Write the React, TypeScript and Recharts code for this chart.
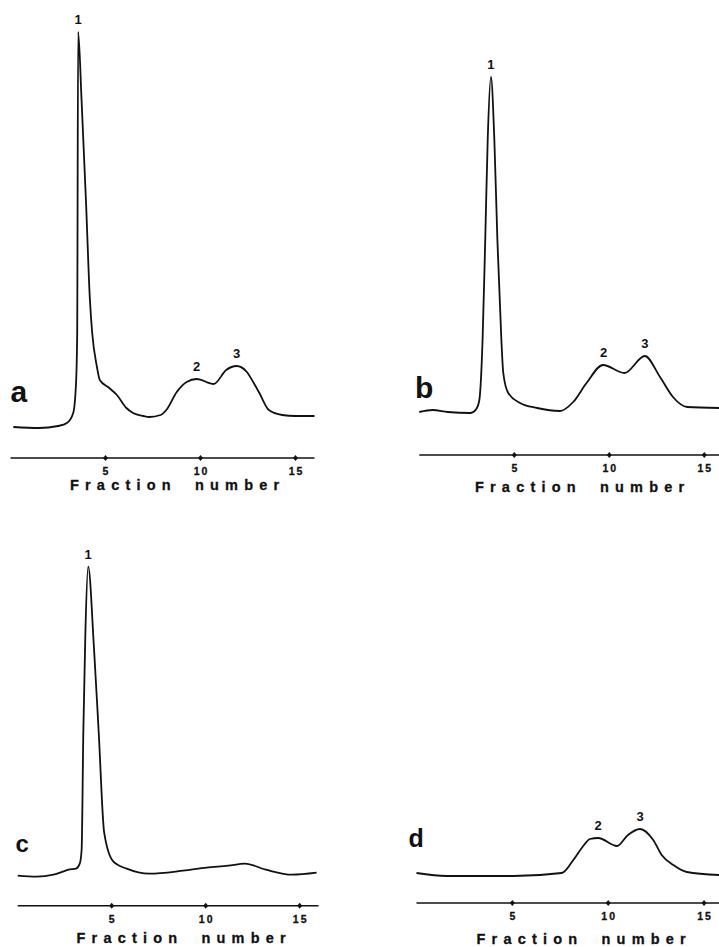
import React from "react";
import { LineChart, Line, XAxis, YAxis, ReferenceDot } from "recharts";

// elution profiles, absorbance (arbitrary units) vs fraction number
const fractionA = [0.15, 1.5, 2.5, 2.97, 3.3, 3.45, 3.51, 3.56, 3.74, 3.97, 4.18, 4.3, 4.55, 4.7, 5.2, 5.6, 6.1, 6.45, 7.0, 7.3, 7.9, 8.2, 8.75, 9.27, 9.8, 10.7, 11.35, 11.9, 12.44, 12.8, 13.1, 13.6, 14.3, 15.0, 16.0];
const absorbA = [0.31, 0.3, 0.32, 0.35, 0.45, 0.75, 1.25, 4.26, 3.58, 2.58, 1.58, 1.25, 0.91, 0.78, 0.7, 0.63, 0.5, 0.45, 0.42, 0.41, 0.43, 0.48, 0.66, 0.76, 0.79, 0.74, 0.88, 0.92, 0.86, 0.75, 0.65, 0.48, 0.43, 0.42, 0.42];

const fractionB = [0, 0.7, 1.5, 2.7, 3.0, 3.16, 3.33, 3.47, 3.6, 3.77, 3.95, 4.11, 4.32, 4.42, 4.68, 5.3, 6.2, 7.4, 8.1, 8.8, 9.67, 10.8, 11.87, 12.67, 13.35, 14.1, 15.8];
const absorbB = [0.43, 0.45, 0.43, 0.42, 0.46, 0.55, 1.15, 2.15, 3.15, 3.78, 3.15, 2.15, 1.15, 0.82, 0.62, 0.52, 0.47, 0.44, 0.53, 0.72, 0.9, 0.82, 0.99, 0.78, 0.58, 0.48, 0.47];

const fractionC = [0, 1.0, 1.9, 2.4, 2.7, 3.1, 3.3, 3.4, 3.49, 3.6, 3.75, 4.05, 4.31, 4.6, 5.09, 5.8, 7.0, 8.8, 10.05, 11.2, 12.09, 13.2, 14.6, 15.9];
const absorbC = [0.3, 0.29, 0.31, 0.34, 0.36, 0.37, 0.42, 0.56, 1.73, 2.73, 3.39, 2.6, 1.73, 0.73, 0.44, 0.37, 0.32, 0.35, 0.38, 0.4, 0.42, 0.36, 0.31, 0.33];

const fractionD = [0, 1.57, 5.05, 7.57, 8.18, 8.7, 9.05, 9.48, 10.46, 11.03, 11.66, 12.35, 12.79, 13.4, 14.1, 15.8];
const absorbD = [0.3, 0.27, 0.27, 0.3, 0.43, 0.57, 0.64, 0.65, 0.57, 0.68, 0.74, 0.63, 0.48, 0.38, 0.31, 0.28];

const peaksA = [{ label: "1", x: 3.56, v: 4.26 }, { label: "2", x: 9.8, v: 0.79 }, { label: "3", x: 11.9, v: 0.92 }];
const peaksB = [{ label: "1", x: 3.77, v: 3.78 }, { label: "2", x: 9.7, v: 0.9 }, { label: "3", x: 11.87, v: 0.99 }];
const peaksC = [{ label: "1", x: 3.75, v: 3.39 }];
const peaksD = [{ label: "2", x: 9.48, v: 0.65 }, { label: "3", x: 11.66, v: 0.74 }];

const fractionTicks = [5, 10, 15];
const FONT = "'Liberation Sans', Arial, sans-serif";
const INK = "#111";

const toRows = (xs: number[], ys: number[]) => xs.map((x, i) => ({ fraction: x, abs: ys[i] }));

const AxisTick = (props: any) => {
  const { x, y, payload } = props;
  return (
    <g>
      <path d={`M${x},${y - 3}L${x + 2.5},${y}L${x},${y + 3}L${x - 2.5},${y}Z`} fill={INK} />
      <text x={x + 1} y={y + 17} textAnchor="middle" fontFamily={FONT} fontSize={10.5} fontWeight={700} fill={INK}
        stroke={INK} strokeWidth={0.3} style={{ letterSpacing: "2px" }}>
        {payload.value}
      </text>
    </g>
  );
};

const axisTitle = (startFrac: number, dy: number) => (props: any) => {
  const vb = props.viewBox;
  return (
    <text x={vb.x + (vb.width * startFrac) / 16} y={vb.y + dy} fontFamily={FONT} fontSize={14.5} fontWeight={700} fill={INK}
      stroke={INK} strokeWidth={0.3} style={{ letterSpacing: "6.2px", wordSpacing: "8px" }}>
      Fraction number
    </text>
  );
};

interface PanelProps {
  left: number;
  top: number;
  width: number;
  plotLeft: number;
  plotWidth: number;
  plotTop: number;
  rows: { fraction: number; abs: number }[];
  peaks: { label: string; x: number; v: number }[];
  titleStart: number;
  titleDy: number;
}

const Panel = ({ left, top, width, plotLeft, plotWidth, plotTop, rows, peaks, titleStart, titleDy }: PanelProps) => (
  <div style={{ position: "absolute", left, top }}>
    <LineChart width={width} height={plotTop + 450 + 48} data={rows}
      margin={{ top: plotTop, left: plotLeft, right: width - plotLeft - plotWidth, bottom: 0 }}>
      <XAxis dataKey="fraction" type="number" domain={[0, 16]} ticks={fractionTicks} interval={0} height={48}
        tickSize={0} tickMargin={0} tickLine={false} axisLine={{ stroke: INK, strokeWidth: 1.5 }}
        tick={<AxisTick />} label={axisTitle(titleStart, titleDy)} />
      <YAxis hide type="number" domain={[0, 4.5]} />
      <Line type="monotone" dataKey="abs" stroke={INK} strokeWidth={1.8} dot={false} isAnimationActive={false} />
      {peaks.map((p) => (
        <ReferenceDot key={p.label} x={p.x} y={p.v} r={1} fill="none" stroke="none" ifOverflow="visible"
          label={{ value: p.label, position: "top", offset: 7, fontSize: 13, fontWeight: 700, fill: INK, fontFamily: FONT }} />
      ))}
    </LineChart>
  </div>
);

export default function App() {
  return (
    <div style={{ position: "absolute", left: 0, top: 0, width: 719, height: 947, overflow: "hidden", background: "#fff" }}>
      <Panel left={0} top={0} width={330} plotLeft={10.5} plotWidth={304} plotTop={8}
        rows={toRows(fractionA, absorbA)} peaks={peaksA} titleStart={3.13} titleDy={32} />
      <Panel left={380} top={0} width={360} plotLeft={39.3} plotWidth={304} plotTop={5}
        rows={toRows(fractionB, absorbB)} peaks={peaksB} titleStart={2.93} titleDy={37} />
      <Panel left={0} top={450} width={340} plotLeft={17.7} plotWidth={300.8} plotTop={5.7}
        rows={toRows(fractionC, absorbC)} peaks={peaksC} titleStart={3.13} titleDy={37} />
      <Panel left={380} top={450} width={360} plotLeft={36.5} plotWidth={306.7} plotTop={3}
        rows={toRows(fractionD, absorbD)} peaks={peaksD} titleStart={3.13} titleDy={41} />
      <svg width={719} height={947} style={{ position: "absolute", left: 0, top: 0, pointerEvents: "none" }}>
        <g fontFamily={FONT} fontWeight={700} fill={INK}>
          <text x={10.5} y={402} fontSize={30}>a</text>
          <text x={415} y={398} fontSize={30}>b</text>
          <text x={15.5} y={852} fontSize={24}>c</text>
          <text x={408.5} y={847} fontSize={25}>d</text>
        </g>
      </svg>
    </div>
  );
}
